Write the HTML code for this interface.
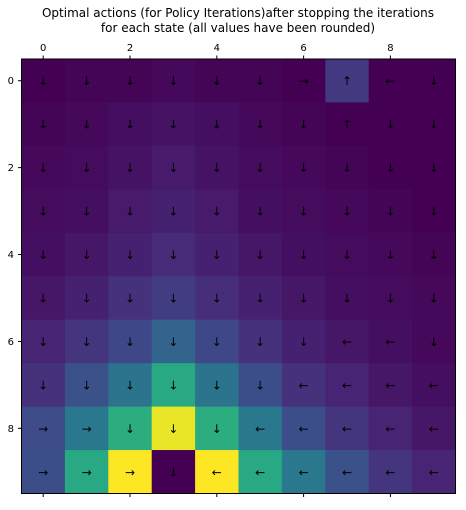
<!DOCTYPE html>
<html><head><meta charset="utf-8"><style>
body{margin:0;background:#fff;width:466px;height:505px;overflow:hidden}
svg text{font-family:"DejaVu Sans","Liberation Sans",sans-serif}
</style></head><body>
<svg id="chart" width="466" height="505" xmlns="http://www.w3.org/2000/svg">
<text x="238" y="17" font-size="12" text-anchor="middle" fill="#000">Optimal actions (for Policy Iterations)after stopping the iterations</text>
<text x="238" y="32" font-size="12" text-anchor="middle" fill="#000">for each state (all values have been rounded)</text>
<g id="cells"></g><g id="axes"></g>
</svg>
<script>
const rows=[0,1,2,3,4,5,6,7,8,9];
const cols=[0,1,2,3,4,5,6,7,8,9];
const values=[
[0.0,0.01,0.01,0.02,0.01,0.01,0.0,0.17,0.0,0.0],
[0.01,0.02,0.04,0.05,0.04,0.02,0.01,0.0,0.0,0.0],
[0.02,0.03,0.05,0.07,0.05,0.03,0.02,0.01,0.0,0.0],
[0.03,0.04,0.07,0.09,0.07,0.04,0.03,0.02,0.01,0.0],
[0.04,0.06,0.09,0.12,0.09,0.06,0.04,0.03,0.02,0.01],
[0.06,0.09,0.14,0.18,0.13,0.09,0.06,0.04,0.03,0.02],
[0.1,0.15,0.22,0.32,0.22,0.14,0.09,0.06,0.04,0.02],
[0.14,0.25,0.38,0.6,0.38,0.24,0.14,0.1,0.06,0.04],
[0.23,0.4,0.62,0.97,0.62,0.4,0.24,0.15,0.1,0.06],
[0.24,0.6,1.0,0.0,1.0,0.6,0.4,0.25,0.15,0.1]];
const arrows=[
"↓↓↓↓↓↓→↑←↓","↓↓↓↓↓↓↓↑↓↓","↓↓↓↓↓↓↓↓↓↓","↓↓↓↓↓↓↓↓↓↓","↓↓↓↓↓↓↓↓↓↓",
"↓↓↓↓↓↓↓↓↓↓","↓↓↓↓↓↓↓←←↓","↓↓↓↓↓↓←←←←","→→↓↓↓←←←←←","→→→↓←←←←←←"];
const xTicks=[0,2,4,6,8];
const yTicks=[0,2,4,6,8];
const L=21.5,T=59,W=434,H=434.5,cw=W/10,ch=H/10;
const vir=[[68,1,84],[72,40,120],[62,73,137],[49,104,142],[38,130,142],[31,158,137],[53,183,121],[109,205,89],[180,222,44],[253,231,37]];
function cmap(v){v=Math.max(0,Math.min(1,v))*9;const i=Math.min(8,Math.floor(v)),f=v-i;const a=vir[i],b=vir[i+1];return`rgb(${a.map((c,k)=>Math.round(c+(b[k]-c)*f)).join(',')})`;}
const xs=c=>L+c*cw, ys=r=>T+r*ch;
const NS="http://www.w3.org/2000/svg";
const g=document.getElementById('cells'),ax=document.getElementById('axes');
rows.forEach(r=>cols.forEach(c=>{
 const rc=document.createElementNS(NS,'rect');
 rc.setAttribute('x',xs(c));rc.setAttribute('y',ys(r));rc.setAttribute('width',cw+0.5);rc.setAttribute('height',ch+0.5);
 rc.setAttribute('fill',cmap(values[r][c]));
 
 
 g.appendChild(rc);
 const t=document.createElementNS(NS,'text');
 t.setAttribute('x',xs(c)+cw/2);t.setAttribute('y',ys(r)+ch/2+4.5);t.setAttribute('font-size','12');t.setAttribute('text-anchor','middle');
 t.textContent=arrows[r][c];
 
 
 g.appendChild(t);
}));
const fr=document.createElementNS(NS,'rect');
fr.setAttribute('x',L);fr.setAttribute('y',T);fr.setAttribute('width',W);fr.setAttribute('height',H);fr.setAttribute('fill','none');fr.setAttribute('stroke','#000');fr.setAttribute('stroke-width','1');


ax.appendChild(fr);
xTicks.forEach(v=>{const x=xs(v)+cw/2;
 [[T,T-3.5],[T+H,T+H+3.5]].forEach(([a,b])=>{const l=document.createElementNS(NS,'line');l.setAttribute('x1',x);l.setAttribute('x2',x);l.setAttribute('y1',a);l.setAttribute('y2',b);l.setAttribute('stroke','#000');
 
 
 ax.appendChild(l);});
 const t=document.createElementNS(NS,'text');t.setAttribute('x',x);t.setAttribute('y',51);t.setAttribute('font-size','10');t.setAttribute('text-anchor','middle');t.textContent=v;
 
 
 ax.appendChild(t);});
yTicks.forEach(v=>{const y=ys(v)+ch/2;
 const l=document.createElementNS(NS,'line');l.setAttribute('x1',L);l.setAttribute('x2',L-3.5);l.setAttribute('y1',y);l.setAttribute('y2',y);l.setAttribute('stroke','#000');
 
 
 ax.appendChild(l);
 const t=document.createElementNS(NS,'text');t.setAttribute('x',14);t.setAttribute('y',y+3.5);t.setAttribute('font-size','10');t.setAttribute('text-anchor','end');t.textContent=v;
 
 
 ax.appendChild(t);});
</script>
</body></html>
